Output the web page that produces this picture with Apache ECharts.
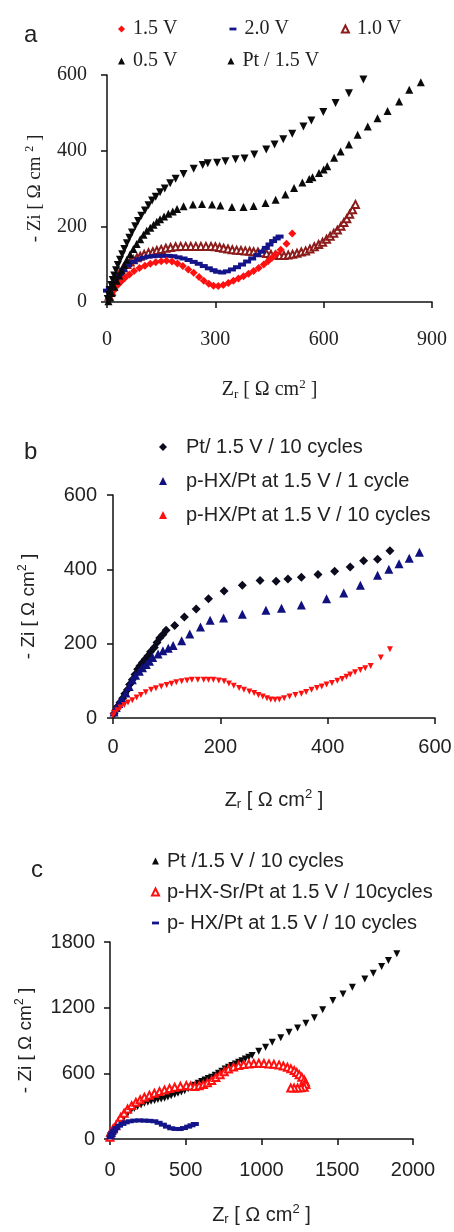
<!DOCTYPE html>
<html>
<head>
<meta charset="utf-8">
<title>Nyquist plots</title>
<script src="https://cdn.jsdelivr.net/npm/echarts@6.0.0/dist/echarts.min.js"></script>
<style>
  html, body { margin: 0; padding: 0; background: #fff; }
  #chart { width: 454px; height: 1232px; }
</style>
</head>
<body>
<div id="chart"></div>
<script>
// panel a: Zr / -Zi pairs
const a15V = [[5,8],[12,20],[20,32],[30,45],[40,55],[50,64],[62,73],[75,82],[90,90],[105,96],[120,101],[135,105],[150,108],[165,109],[180,107],[195,102],[210,95],[225,86],[240,77],[255,66],[268,56],[282,48],[295,43],[308,42],[322,45],[336,50],[350,56],[364,62],[378,68],[392,75],[406,82],[420,90],[434,99],[446,108],[457,117],[468,127],[481,138],[497,154],[513,181]];
const a20V = [[0,30],[8,37],[17,45],[27,60],[36,72],[45,85],[58,97],[73,106],[87,113],[101,117],[115,120],[129,121],[143,122],[156,122],[170,122],[184,121],[198,118],[212,115],[226,111],[240,106],[254,101],[268,95],[282,89],[295,84],[305,80],[319,78],[332,81],[346,86],[360,92],[374,99],[388,107],[402,115],[416,124],[428,133],[440,143],[450,152],[460,161],[470,168],[478,173]];
const a10V = [[6,15],[12,28],[18,42],[27,62],[36,78],[45,90],[55,99],[64,106],[73,112],[83,117],[92,121],[103,126],[115,130],[127,133],[138,136],[150,139],[163,142],[176,144],[190,146],[204,147],[218,147],[232,147],[246,147],[260,147],[274,147],[288,147],[300,146],[312,144],[323,142],[335,140],[347,138],[359,137],[371,136],[383,135],[395,134],[406,133],[418,132],[430,130],[442,128],[454,126],[466,124],[478,123],[490,123],[502,124],[514,126],[526,129],[538,132],[550,135],[562,140],[574,146],[586,152],[597,158],[608,166],[618,174],[628,182],[638,190],[648,200],[656,210],[664,220],[672,232],[680,244],[688,258]];
const a05V = [[4,2],[8,12],[13,24],[20,40],[27,56],[34,70],[41,84],[48,98],[55,112],[64,126],[73,140],[82,153],[92,166],[101,178],[110,188],[120,196],[129,204],[138,212],[147,219],[158,226],[170,233],[182,239],[194,246],[212,253],[238,258],[263,259],[291,258],[314,255],[346,251],[378,251],[406,254],[439,262],[467,270],[494,284],[518,301],[541,316],[560,325],[569,330],[587,341],[600,350],[610,359],[629,381],[647,398],[670,416],[694,442],[722,464],[749,486],[777,505],[809,530],[837,561],[869,581]];
const aPt = [[2,8],[5,20],[8,32],[12,45],[16,58],[20,70],[25,84],[30,98],[36,112],[42,126],[48,140],[55,155],[62,170],[69,184],[78,200],[86,214],[95,228],[105,242],[115,256],[125,268],[135,278],[147,290],[160,300],[175,314],[190,326],[212,338],[240,352],[265,362],[279,367],[305,368],[328,372],[356,377],[381,379],[408,390],[441,403],[464,416],[488,430],[513,445],[544,464],[566,480],[599,502],[633,526],[670,552],[710,588]];

// panel b
const bPt = [[2,12],[5,20],[8,30],[13,42],[18,53],[22,65],[27,76],[31,90],[36,103],[41,117],[46,131],[50,140],[55,149],[60,158],[65,167],[70,178],[77,190],[82,203],[87,215],[93,225],[99,236],[115,249],[133,272],[155,293],[178,321],[207,342],[241,357],[274,370],[304,368],[326,374],[351,379],[382,386],[413,395],[442,406],[467,423],[493,427],[516,450]];
const b1cyc = [[2,16],[6,28],[11,39],[17,52],[24,67],[30,85],[36,103],[42,115],[49,126],[55,135],[62,144],[68,153],[74,163],[84,172],[93,181],[103,188],[112,195],[128,208],[143,226],[163,245],[181,263],[206,269],[241,279],[285,290],[314,295],[351,304],[398,321],[430,336],[461,357],[493,384],[514,400],[533,415],[552,430],[571,446]];
const b10cyc = [[0,7],[3,14],[8,21],[14,28],[21,35],[28,42],[36,48],[44,55],[52,62],[61,69],[71,76],[80,80],[90,85],[100,89],[109,92],[118,96],[128,99],[138,101],[147,103],[158,103],[169,103],[178,103],[187,103],[197,101],[207,99],[216,93],[225,87],[235,81],[244,76],[254,71],[263,67],[271,62],[279,58],[287,53],[294,50],[302,49],[310,50],[319,53],[329,58],[340,62],[351,65],[360,70],[370,76],[380,81],[389,85],[398,90],[408,94],[418,100],[427,105],[435,111],[442,117],[451,123],[461,129],[470,134],[480,140],[499,163],[516,185]];

// panel c
const cPt = [[4,30],[15,55],[27,76],[45,110],[60,137],[75,165],[93,198],[115,228],[138,259],[160,278],[182,296],[205,311],[227,326],[250,336],[271,345],[294,352],[316,360],[338,366],[360,372],[382,384],[404,396],[427,407],[449,418],[471,430],[493,442],[516,458],[538,473],[560,490],[582,509],[605,525],[627,540],[649,552],[671,564],[694,582],[716,601],[738,620],[760,640],[782,656],[804,671],[827,686],[849,701],[871,716],[893,732],[916,747],[938,762],[982,802],[1027,838],[1071,884],[1127,924],[1182,976],[1238,1015],[1293,1058],[1349,1107],[1404,1180],[1471,1265],[1538,1326],[1600,1387],[1682,1463],[1738,1515],[1793,1576],[1838,1631],[1893,1692]];
const cSr = [[0,15],[4,61],[20,92],[38,122],[55,160],[71,198],[93,236],[116,274],[143,305],[171,335],[199,358],[227,381],[260,400],[293,418],[327,433],[360,448],[393,461],[427,473],[465,481],[504,488],[532,484],[560,479],[588,486],[616,497],[643,515],[671,534],[699,561],[727,588],[754,614],[782,640],[815,657],[849,671],[882,680],[916,686],[949,690],[982,692],[1016,690],[1049,686],[1082,682],[1116,677],[1144,667],[1171,655],[1194,641],[1216,625],[1233,607],[1249,588],[1266,564],[1282,540],[1290,518],[1293,497],[1282,473],[1260,468],[1238,466],[1215,466],[1193,466]];
const cHX = [[4,15],[10,35],[16,55],[27,76],[42,100],[60,122],[82,138],[104,152],[130,162],[160,168],[193,170],[227,168],[260,166],[293,162],[321,148],[349,131],[376,113],[404,98],[432,92],[460,91],[488,100],[516,113],[538,125],[560,137]];

// axis ranges
const xMax = [900, 600, 2000];
const xStep = [300, 200, 500];
const yMax = [600, 600, 1800];
const yStep = [200, 200, 600];

const serif = '"Liberation Serif", "Times New Roman", serif';
const sans = '"Liberation Sans", Arial, sans-serif';
const ink = '#222';

const fonts = [serif, sans, sans];
const labelMarginX = [28, 19, 21];
const labelMarginY = [20, 16, 15];
const nameGapX = [76, 70, 64];
const nameGapY = [60, 73, 73];

function richFor(f, size) {
  return {
    t: { fontFamily: f, fontSize: size, color: ink },
    sub: { fontFamily: f, fontSize: Math.round(size * 0.65), color: ink, padding: [9, 0, 0, 0] },
    sup: { fontFamily: f, fontSize: Math.round(size * 0.65), color: ink, padding: [0, 0, 11, 0] }
  };
}

const xName = '{t|Z}{sub|r}{t| [ Ω cm}{sup|2}{t| ]}';
const yNames = [
  '{t|- Zi [ Ω cm }{sup|2}{t| ]}',
  '{t|- Zi [ Ω cm}{sup|2}{t| ]}',
  '{t|- Zi [ Ω cm}{sup|2}{t| ]}'
];

const axisLine = { lineStyle: { color: '#111', width: 1.5 } };
const axisTick = { length: 6, lineStyle: { color: '#111', width: 1.5 } };
const plain = v => String(v);

const xAxis = [0, 1, 2].map(i => ({
  type: 'value', gridIndex: i, min: 0, max: xMax[i], interval: xStep[i],
  splitLine: { show: false }, axisLine, axisTick,
  axisLabel: { fontFamily: fonts[i], fontSize: 20, color: ink, margin: labelMarginX[i], formatter: plain, showMinLabel: true, showMaxLabel: true },
  name: xName, nameLocation: 'middle', nameGap: nameGapX[i],
  nameTextStyle: { fontFamily: fonts[i], fontSize: 20, color: ink, rich: richFor(fonts[i], 20) }
}));

const yAxis = [0, 1, 2].map(i => ({
  type: 'value', gridIndex: i, min: 0, max: yMax[i], interval: yStep[i],
  splitLine: { show: false }, axisLine, axisTick,
  axisLabel: { fontFamily: fonts[i], fontSize: 20, color: ink, margin: labelMarginY[i], formatter: plain, showMinLabel: true, showMaxLabel: true },
  name: yNames[i], nameLocation: 'middle', nameGap: nameGapY[i],
  nameTextStyle: { fontFamily: fonts[i], fontSize: 19, color: ink, rich: richFor(fonts[i], 19) }
}));

function sc(name, data, gi, symbol, size, color, extra) {
  return Object.assign({
    name, type: 'scatter', data, xAxisIndex: gi, yAxisIndex: gi,
    symbol, symbolSize: size, itemStyle: { color, opacity: 1 }, silent: true
  }, extra || {});
}

const red = '#ff1010';
const navy = '#14148a';
const darkRed = '#8c1c1c';
const black = '#0a0a0a';

const series = [
  sc('1.0 V', a10V, 0, 'emptyTriangle', 7, darkRed),
  sc('2.0 V', a20V, 0, 'rect', [8, 4], navy),
  sc('1.5 V', a15V, 0, 'diamond', 8, red),
  sc('0.5 V', a05V, 0, 'triangle', 8, black),
  sc('Pt / 1.5 V', aPt, 0, 'triangle', 8, black, { symbolRotate: 180 }),

  sc('Pt/ 1.5 V / 10 cycles', bPt, 1, 'diamond', 9, '#0b0b1e'),
  sc('p-HX/Pt at 1.5 V / 1 cycle', b1cyc, 1, 'triangle', 9, '#10107e'),
  sc('p-HX/Pt at 1.5 V / 10 cycles', b10cyc, 1, 'triangle', 6, red, { symbolRotate: 180 }),

  sc('Pt /1.5 V / 10 cycles', cPt, 2, 'triangle', 7, black, { symbolRotate: 180 }),
  sc('p-HX-Sr/Pt at 1.5 V / 10cycles', cSr, 2, 'emptyTriangle', 7, red),
  sc('p- HX/Pt at 1.5 V / 10 cycles', cHX, 2, 'rect', [8, 4], navy)
];

const dashIcon = 'path://M0,0h10v4h-10z';
const legendTextA = { fontFamily: serif, fontSize: 20, color: ink, padding: [0, 0, 0, 3] };

const legend = [
  {
    data: ['1.5 V', { name: '2.0 V', icon: dashIcon }, '1.0 V'],
    left: 113, top: 14, itemWidth: 7, itemHeight: 7, itemGap: 52, textStyle: legendTextA
  },
  {
    data: ['0.5 V', 'Pt / 1.5 V'],
    left: 113, top: 46, itemWidth: 7, itemHeight: 7, itemGap: 50, textStyle: legendTextA
  },
  {
    data: ['Pt/ 1.5 V / 10 cycles', 'p-HX/Pt at 1.5 V / 1 cycle', 'p-HX/Pt at 1.5 V / 10 cycles'],
    orient: 'vertical', left: 154, top: 432, itemWidth: 8, itemHeight: 8, itemGap: 14,
    textStyle: { fontFamily: sans, fontSize: 20, color: ink, padding: [0, 0, 0, 14] }
  },
  {
    data: ['Pt /1.5 V / 10 cycles', 'p-HX-Sr/Pt at 1.5 V / 10cycles', { name: 'p- HX/Pt at 1.5 V / 10 cycles', icon: dashIcon }],
    orient: 'vertical', left: 146, top: 846, itemWidth: 7, itemHeight: 7, itemGap: 11,
    textStyle: { fontFamily: sans, fontSize: 20, color: ink, padding: [0, 0, 0, 3] }
  }
];

const option = {
  animation: false,
  backgroundColor: '#fff',
  grid: [
    { left: 107, top: 75, width: 325, height: 227, outerBoundsMode: 'none' },
    { left: 113, top: 495, width: 322, height: 223, outerBoundsMode: 'none' },
    { left: 110, top: 942, width: 303, height: 197, outerBoundsMode: 'none' }
  ],
  xAxis, yAxis, series, legend,
  graphic: [
    { type: 'text', left: 24, top: 23, style: { text: 'a', fontFamily: sans, fontSize: 24, fill: ink } },
    { type: 'text', left: 24, top: 440, style: { text: 'b', fontFamily: sans, fontSize: 24, fill: ink } },
    { type: 'text', left: 31, top: 858, style: { text: 'c', fontFamily: sans, fontSize: 24, fill: ink } }
  ]
};

const myChart = echarts.init(document.getElementById('chart'), null, { renderer: 'canvas' });
myChart.setOption(option);
</script>
</body>
</html>
